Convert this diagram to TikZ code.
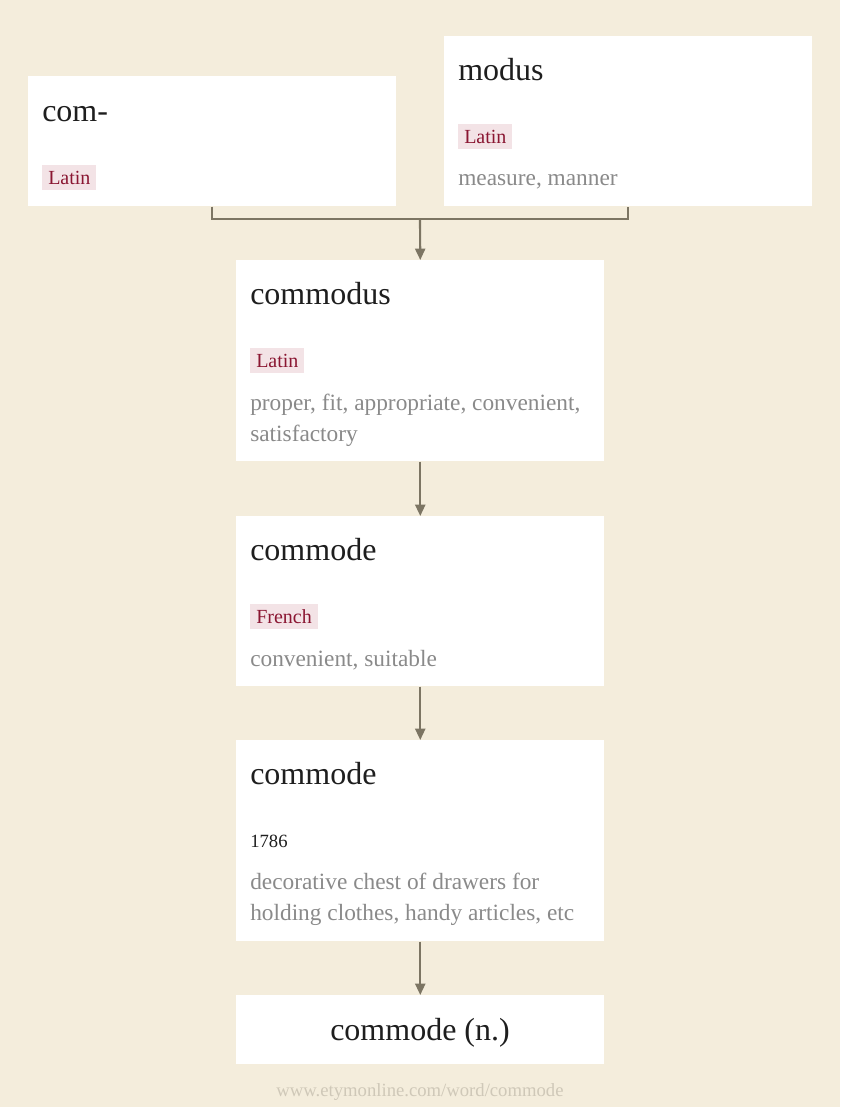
\documentclass[tikz,border=0pt]{standalone}
\usepackage{fontspec}
\setmainfont{Liberation Serif}
\usetikzlibrary{arrows.meta}
\definecolor{paper}{HTML}{F4EDDC}
\definecolor{ink}{HTML}{1E1E1E}
\definecolor{grey}{HTML}{8A8A8A}
\definecolor{tagbg}{HTML}{F3E3E6}
\definecolor{tagink}{HTML}{8A1632}
\definecolor{linkc}{HTML}{7C7563}
\definecolor{foot}{HTML}{CFC8B8}

\begin{document}
\begin{tikzpicture}[x=0.75pt,y=-0.75pt,
  card/.style={rectangle, fill=white, inner sep=0pt, anchor=north west, minimum width=276pt, minimum height=#1},
  word/.style={anchor=base west, inner sep=0pt, text=ink, font=\fontsize{24}{28}\selectfont},
  lang/.style={anchor=base west, fill=tagbg, text=tagink, inner xsep=4.5pt, inner ysep=0pt, text height=14.25pt, text depth=4.5pt, font=\fontsize{15}{18}\selectfont},
  gloss/.style={anchor=base west, inner sep=0pt, text=grey, align=left, font=\fontsize{17.5}{23.25}\selectfont},
  link/.style={draw=linkc, line width=1.6pt},
  push/.style={link, -{Triangle[width=7.5pt,length=8.5pt]}}]

  \fill[paper] (0,0) rectangle (840,1107);
  \useasboundingbox (0,0) rectangle (840,1107);

  % the two roots
  \node[card=97.5pt] (com) at (28,76) {};
  \node[word] (comword) at (42,121) {com-};
  \node[lang] (comlang) at (42,184) {Latin};

  \node[card=127.5pt] (modus) at (444,36) {};
  \node[word] (modusword) at (458,80) {modus};
  \node[lang] (moduslang) at (458,143) {Latin};
  \node[gloss] (modusgloss) at (458,185) {measure, manner};

  % commodus (base of a two-line gloss is its last line)
  \node[card=150.75pt] (commodus) at (236,260) {};
  \node[word] (commodusword) at (250,304) {commodus};
  \node[lang] (commoduslang) at (250,367) {Latin};
  \node[gloss] (commodusgloss) at (250,441) {proper, fit, appropriate, convenient,\\satisfactory};

  % french
  \node[card=127.5pt] (french) at (236,516) {};
  \node[word] (frenchword) at (250,560) {commode};
  \node[lang] (frenchlang) at (250,623) {French};
  \node[gloss] (frenchgloss) at (250,666) {convenient, suitable};

  % english
  \node[card=150.75pt] (english) at (236,740) {};
  \node[word] (englishword) at (250,784) {commode};
  \node[anchor=base west, inner sep=0pt, text=ink, font=\fontsize{14}{16}\selectfont] (englishdate) at (250,847) {1786};
  \node[gloss] (englishgloss) at (250,920) {decorative chest of drawers for\\holding clothes, handy articles, etc};

  % headword
  \node[card=51.75pt] (head) at (236,995) {};
  \node[anchor=base, inner sep=0pt, text=ink, font=\fontsize{24}{28}\selectfont] (headword) at (420,1040) {commode (n.)};

  \node[anchor=base, inner sep=0pt, text=foot, font=\fontsize{14}{16}\selectfont] (source) at (420,1096) {www.etymonline.com/word/commode};

  % links
  \coordinate (join) at (420,219);
  \draw[link] (com.south) |- (join) -| (modus.south);
  \draw[push] (join) -- (commodus.north);
  \draw[push] (commodus.south) -- (french.north);
  \draw[push] (french.south) -- (english.north);
  \draw[push] (english.south) -- (head.north);
\end{tikzpicture}
\end{document}
